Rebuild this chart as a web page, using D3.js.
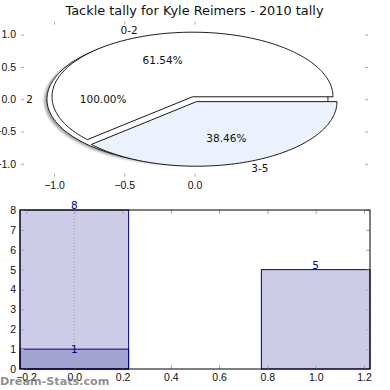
<!DOCTYPE html>
<html>
<head>
<meta charset="utf-8">
<script src="https://cdn.jsdelivr.net/npm/d3@7"></script>
<style>
  body { margin: 0; background: #fff; }
  svg { display: block; font-family: "DejaVu Sans", sans-serif; }
  .tick line { stroke: #a8a8a8; }
  .tick text { fill: #111; font-size: 10.5px; }
</style>
</head>
<body>
<svg id="Vis" width="390" height="390"></svg>
<script>
/*
* DATA
*/

const title = "Tackle tally for Kyle Reimers - 2010 tally";

// pie drawn first: one slice only
const outerLabels = ["2"];
const outerValues = [1];

// pie drawn on top
const pieLabels = ["0-2", "3-5"];
const pieValues = [8, 5];

const pieXTicks = [-1.0, -0.5, 0.0];
const pieYTicks = [1.0, 0.5, 0.0, -0.5, -1.0];

// bars
const barCats = [0, 1];
const barTotals = [8, 5];
const barSubCats = [0];
const barSubValues = [1];

const barXTicks = [-0.2, 0.0, 0.2, 0.4, 0.6, 0.8, 1.0, 1.2];
const barYTicks = [0, 1, 2, 3, 4, 5, 6, 7, 8];

/*
* SETUP
*/

const svg = d3.select("svg#Vis");
const navy = "#000080";
const pieFills = ["#ffffff", "#ebf1fd"];

svg.append("text")
  .attr("x", 194.5)
  .attr("y", 14.5)
  .attr("text-anchor", "middle")
  .style("font-size", "12.9px")
  .style("fill", "#111")
  .text(title);

/*
* PIE PANEL
*/

const xP = d3.scaleLinear().domain([-1.235, 1.235]).range([21, 368]);
const yP = d3.scaleLinear().domain([-1.2, 1.2]).range([176.7, 21.7]);

const defs = svg.append("defs");
defs.append("filter").attr("id", "soft")
  .attr("x", "-10%").attr("y", "-10%").attr("width", "120%").attr("height", "120%")
  .append("feGaussianBlur").attr("stdDeviation", 0.8);

const line = d3.line().x(d => xP(d[0])).y(d => yP(d[1]));

function wedgePoints(ox, oy, a0, a1) {
  const full = Math.abs(a1 - a0 - 2 * Math.PI) < 1e-9;
  const n = Math.max(8, Math.ceil((a1 - a0) / 0.02));
  const pts = full ? [] : [[ox, oy]];
  for (let i = 0; i <= n; i++) {
    const a = a0 + (a1 - a0) * i / n;
    pts.push([ox + Math.cos(a), oy + Math.sin(a)]);
  }
  return pts;
}

const pie = d3.pie().sort(null).startAngle(0).endAngle(2 * Math.PI);

function drawPie(g, values, labels, explode, fills, shadow) {
  const total = d3.sum(values);
  const arcs = pie(values).map((a, i) => {
    const mid = (a.startAngle + a.endAngle) / 2;
    return {
      a0: a.startAngle, a1: a.endAngle, mid: mid,
      ox: explode * Math.cos(mid), oy: explode * Math.sin(mid),
      label: labels[i], pct: 100 * values[i] / total, fill: fills[i]
    };
  });

  if (shadow) {
    g.selectAll("path.shadow")
      .data(arcs)
      .join("path")
        .attr("class", "shadow")
        .attr("d", d => line(wedgePoints(d.ox - 0.02, d.oy - 0.02, d.a0, d.a1)) + "Z")
        .attr("fill", "rgba(70,70,70,0.5)")
        .attr("filter", "url(#soft)");
  }

  g.selectAll("path.wedge")
    .data(arcs)
    .join("path")
      .attr("class", "wedge")
      .attr("d", d => line(wedgePoints(d.ox, d.oy, d.a0, d.a1)) + "Z")
      .attr("fill", d => d.fill)
      .attr("stroke", "#000")
      .attr("stroke-width", 0.9)
      .attr("stroke-linejoin", "miter");

  return arcs;
}

const gOuter = svg.append("g");
const gInner = svg.append("g");
const outerArcs = drawPie(gOuter, outerValues, outerLabels, 0.05, ["#ffffff"], true);
const innerArcs = drawPie(gInner, pieValues, pieLabels, 0.04, pieFills, false);

const gText = svg.append("g").style("font-size", "10.5px").style("fill", "#111");
outerArcs.concat(innerArcs).forEach(d => {
  const lx = d.ox + 1.1 * Math.cos(d.mid);
  const ly = d.oy + 1.1 * Math.sin(d.mid);
  gText.append("text")
    .attr("x", xP(lx))
    .attr("y", yP(ly))
    .attr("dy", "0.36em")
    .attr("text-anchor", lx < 0 ? "end" : "start")
    .text(d.label);
  gText.append("text")
    .attr("x", xP(d.ox + 0.6 * Math.cos(d.mid)))
    .attr("y", yP(d.oy + 0.6 * Math.sin(d.mid)))
    .attr("dy", "0.36em")
    .attr("text-anchor", "middle")
    .text(d.pct.toFixed(2) + "%");
});

/* pie axes: ticks only, no frame */
const pieAxes = svg.append("g");
pieAxes.append("g")
  .attr("transform", `translate(${xP.range()[0]},0)`)
  .call(d3.axisLeft(yP).tickValues(pieYTicks).tickSize(-3).tickPadding(5).tickFormat(d3.format(".1f")));
pieAxes.append("g")
  .attr("transform", `translate(${xP.range()[1]},0)`)
  .call(d3.axisRight(yP).tickValues(pieYTicks).tickSize(-3).tickFormat(""));
pieAxes.append("g")
  .attr("transform", `translate(0,${yP.range()[0]})`)
  .call(d3.axisBottom(xP).tickValues(pieXTicks).tickSize(-3).tickPadding(5).tickFormat(d3.format(".1f")));
pieAxes.append("g")
  .attr("transform", `translate(0,${yP.range()[1]})`)
  .call(d3.axisTop(xP).tickValues(pieXTicks).tickSize(-3).tickFormat(""));
pieAxes.selectAll(".domain").remove();

/*
* BAR PANEL
*/

const xB = d3.scaleLinear().domain([-0.225, 1.225]).range([20, 370]);
const yB = d3.scaleLinear().domain([0, 8]).range([369, 210]);
const barW = 0.45;

const gBars = svg.append("g");
gBars.selectAll("rect.total")
  .data(barCats.map((c, i) => ({ c: c, v: barTotals[i] })))
  .join("rect")
    .attr("class", "total")
    .attr("x", d => xB(d.c - barW / 2))
    .attr("width", d => xB(d.c + barW / 2) - xB(d.c - barW / 2))
    .attr("y", d => yB(d.v))
    .attr("height", d => yB(0) - yB(d.v))
    .attr("fill", navy).attr("fill-opacity", 0.2)
    .attr("stroke", navy).attr("stroke-width", 1);

gBars.selectAll("rect.sub")
  .data(barSubCats.map((c, i) => ({ c: c, v: barSubValues[i] })))
  .join("rect")
    .attr("class", "sub")
    .attr("x", d => xB(d.c - barW / 2))
    .attr("width", d => xB(d.c + barW / 2) - xB(d.c - barW / 2))
    .attr("y", d => yB(d.v))
    .attr("height", d => yB(0) - yB(d.v))
    .attr("fill", navy).attr("fill-opacity", 0.2)
    .attr("stroke", navy).attr("stroke-width", 1);

/* dotted guide at x = 0 */
gBars.append("line")
  .attr("x1", xB(0)).attr("x2", xB(0))
  .attr("y1", yB(8)).attr("y2", yB(0))
  .attr("stroke", "#a0a0a0")
  .attr("stroke-width", 1)
  .attr("stroke-dasharray", "1,2");

/* ticks */
const barAxes = svg.append("g");
barAxes.append("g")
  .attr("transform", `translate(${xB.range()[0]},0)`)
  .call(d3.axisLeft(yB).tickValues(barYTicks).tickSize(-4).tickPadding(4).tickFormat(d3.format("d")));
barAxes.append("g")
  .attr("transform", `translate(${xB.range()[1]},0)`)
  .call(d3.axisRight(yB).tickValues(barYTicks).tickSize(-4).tickFormat(""));
barAxes.append("g")
  .attr("transform", `translate(0,${yB.range()[0]})`)
  .call(d3.axisBottom(xB).tickValues(barXTicks).tickSize(-4).tickPadding(5).tickFormat(d3.format(".1f")));
barAxes.append("g")
  .attr("transform", `translate(0,${yB.range()[1]})`)
  .call(d3.axisTop(xB).tickValues(barXTicks).tickSize(-4).tickFormat(""));
barAxes.selectAll(".domain").remove();

/* frame */
svg.append("rect")
  .attr("x", xB.range()[0]).attr("y", yB.range()[1])
  .attr("width", xB.range()[1] - xB.range()[0])
  .attr("height", yB.range()[0] - yB.range()[1])
  .attr("fill", "none").attr("stroke", "#000").attr("stroke-width", 1);

/* bar labels */
const gLab = svg.append("g").style("font-size", "10.5px").style("fill", navy).attr("text-anchor", "middle");
barCats.forEach((c, i) => {
  gLab.append("text").attr("x", xB(c)).attr("y", yB(barTotals[i])).attr("dy", -0.8).text(barTotals[i]);
});
barSubCats.forEach((c, i) => {
  gLab.append("text").attr("x", xB(c)).attr("y", yB(barSubValues[i])).attr("dy", 3.5).text(barSubValues[i]);
});

/* watermark */
svg.append("text")
  .attr("x", 0)
  .attr("y", 384.5)
  .style("font-size", "11.2px")
  .style("font-weight", "bold")
  .style("fill", "#7a7a7a")
  .style("fill-opacity", 0.85)
  .text("Dream-Stats.com");
</script>
</body>
</html>
